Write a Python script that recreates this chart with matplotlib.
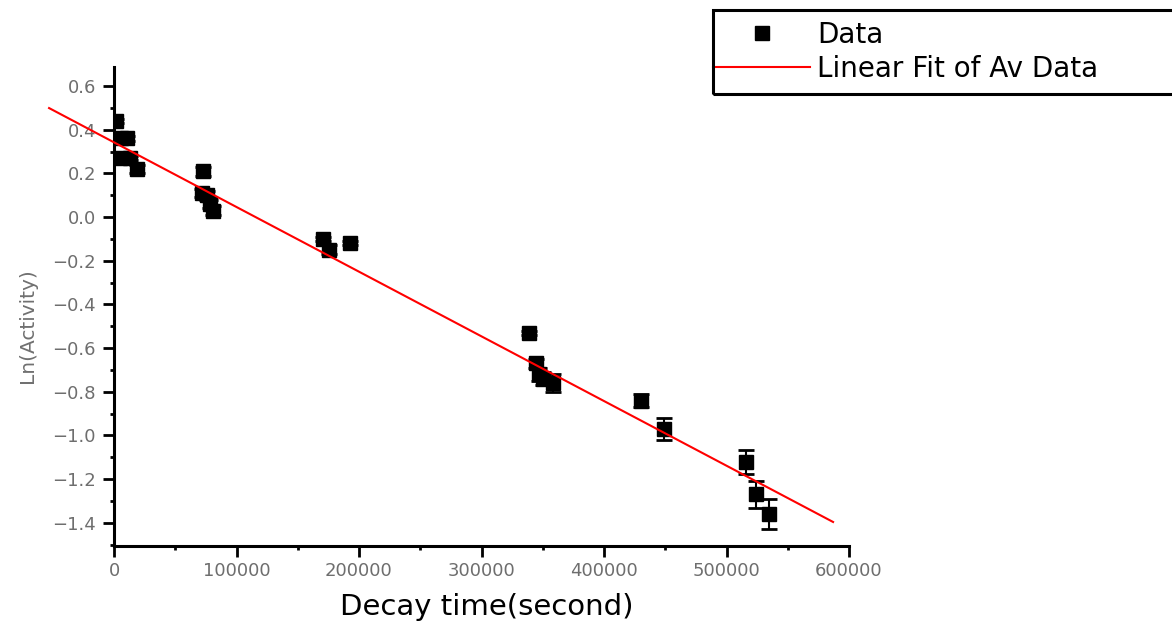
import matplotlib
matplotlib.use('Agg')
import matplotlib.pyplot as plt
from matplotlib.patches import Rectangle
from matplotlib.ticker import MultipleLocator

# measured points (decay time in s, ln of activity, error)
time_s = [2000, 5700, 10600, 4900, 13000, 18800, 73000, 72000, 76000, 78000, 81000,
          170500, 175500, 192600, 338600, 344400, 347000, 350000, 358200,
          430000, 448800, 515700, 523900, 534900]
ln_act = [0.44, 0.36, 0.36, 0.27, 0.27, 0.22, 0.21, 0.11, 0.10, 0.06, 0.03,
          -0.10, -0.15, -0.12, -0.53, -0.67, -0.72, -0.74, -0.76,
          -0.84, -0.97, -1.12, -1.27, -1.36]
ln_err = [0.01, 0.01, 0.01, 0.01, 0.01, 0.02, 0.02, 0.02, 0.02, 0.02, 0.02,
          0.01, 0.02, 0.01, 0.01, 0.02, 0.03, 0.03, 0.04,
          0.03, 0.05, 0.055, 0.062, 0.07]

# linear fit, drawn between its two end points
fit_t = [-53000, 587000]
fit_y = [0.499, -1.396]

W, H = 1172, 625
fig = plt.figure(figsize=(W / 100, H / 100), dpi=100)
ax = fig.add_axes([114 / W, 1 - 546 / H, (849 - 114) / W, (546 - 67) / H])

ax.errorbar(time_s, ln_act, yerr=ln_err, fmt='none', ecolor='black',
            elinewidth=1.5, capsize=6, capthick=2, zorder=2)
ax.plot(time_s, ln_act, 's', color='black', markersize=10, label='Data', zorder=2)
ax.plot(fit_t, fit_y, color='red', lw=1.5, label='Linear Fit of Av Data',
        zorder=3, clip_on=False)

ax.set_xlim(0, 600000)
ax.set_ylim(-1.506, 0.687)
ax.xaxis.set_major_locator(MultipleLocator(100000))
ax.xaxis.set_minor_locator(MultipleLocator(50000))
ax.yaxis.set_major_locator(MultipleLocator(0.2))
ax.yaxis.set_minor_locator(MultipleLocator(0.1))

for s in ['top', 'right']:
    ax.spines[s].set_visible(False)
for s in ['left', 'bottom']:
    ax.spines[s].set_linewidth(2.2)

ax.tick_params(which='major', direction='out', length=8, width=2,
               labelsize=13, labelcolor='#6e6e6e')
ax.tick_params(which='minor', direction='out', length=3, width=2)
ax.tick_params(axis='x', which='major', pad=3.5)
ax.tick_params(axis='y', which='major', pad=5)

ax.text(-0.118, 0.461, 'Ln(Activity)', transform=ax.transAxes, rotation=90,
        ha='center', va='center', fontsize=14.5, color='#707070')
fig.text(487 / W, 1 - 607 / H, 'Decay time(second)', ha='center', va='center',
         fontsize=21, color='black')

# legend box runs past the right edge of the picture
fig.patches.append(Rectangle((713 / W, 1 - 94 / H), 0.5, 84 / H, fill=False,
                             ec='black', lw=2.2, transform=fig.transFigure,
                             figure=fig, clip_on=False))
ax.legend(loc='upper left', bbox_to_anchor=(713 / W, 1 - 21 / H),
          bbox_transform=fig.transFigure, frameon=False, fontsize=20,
          borderpad=0, borderaxespad=0, handlelength=3.5, handletextpad=0.25,
          labelspacing=0.2, markerscale=1.0)

fig.savefig('out.png', dpi=100)
